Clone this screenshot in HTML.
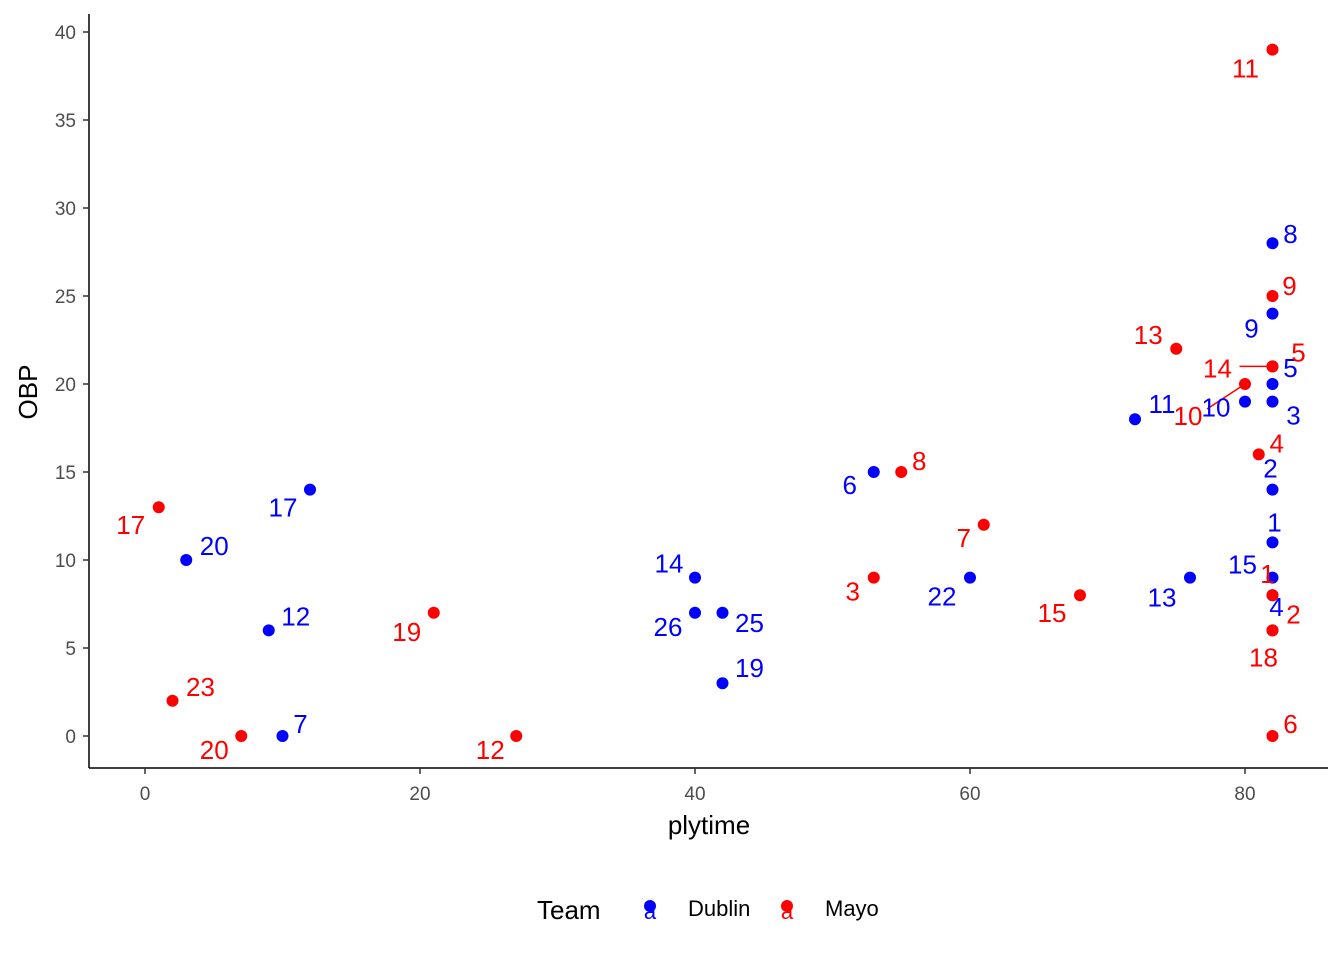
<!DOCTYPE html>
<html><head><meta charset="utf-8"><style>
body{margin:0;background:#fff}
svg text{font-family:"Liberation Sans",Arial,sans-serif}
</style></head><body>
<svg id="chart" width="1344" height="960" viewBox="0 0 1344 960" xmlns="http://www.w3.org/2000/svg">
<rect width="1344" height="960" fill="#fff"/>
<g id="axes"></g><g id="marks"></g>
<text x="709" y="834" font-size="26" text-anchor="middle">plytime</text>
<text transform="translate(37,392) rotate(-90)" font-size="26" text-anchor="middle">OBP</text>
<g>
<text x="537" y="919" font-size="26">Team</text>
<g>
<circle cx="650" cy="906" r="6" fill="#0000ff"/><text x="650" y="919" font-size="22" fill="#0000ff" text-anchor="middle">a</text>
<text x="688" y="916" font-size="22">Dublin</text></g>
<g>
<circle cx="787" cy="906" r="6" fill="#ff0000"/><text x="787" y="919" font-size="22" fill="#ff0000" text-anchor="middle">a</text>
<text x="825" y="916" font-size="22">Mayo</text></g>
</g>
</svg>
<script>
const xTicks=[0,20,40,60,80];
const yTicks=[0,5,10,15,20,25,30,35,40];
const dubX=[82,82,82,82,80,72,82,82,82,76,60,53,40,40,42,42,12,3,9,10,82];
const dubY=[28,24,20,19,19,18,14,11,9,9,9,15,9,7,7,3,14,10,6,0,8];
const dubLab=["8","9","5","3","10","11","2","1","15","13","22","6","14","26","25","19","17","20","12","7","4"];
const dubOff=[[18,-9],[-21,15],[18,-16],[21,14],[-29,6],[27,-15],[-2,-21],[2,-20],[-30,-13],[-28,20],[-28,19],[-24,13],[-26,-14],[-27,14],[27,10],[27,-15],[-27,18],[28,-14],[27,-14],[18,-12],[4,12]];
const mayX=[82,82,75,82,82,80,81,82,82,82,82,61,55,53,68,21,27,1,2,7];
const mayY=[39,25,22,21,21,20,16,8,6,6,0,12,15,9,8,7,0,13,2,0];
const mayLab=["11","9","13","14","5","10","4","1","2","18","6","7","8","3","15","19","12","17","23","20"];
const mayOff=[[-27,19],[17,-10],[-28,-14],[-55,2],[26,-14],[-57,32],[18,-11],[-5,-21],[21,-16],[-9,27],[18,-12],[-20,13],[18,-11],[-21,14],[-28,18],[-27,19],[-26,14],[-28,18],[28,-14],[-27,14]];
const X=v=>145+v*13.75, Y=v=>736-v*17.6;
const NS="http://www.w3.org/2000/svg";
const ax=document.getElementById('axes'), mk=document.getElementById('marks');
function el(t,a,p){const e=document.createElementNS(NS,t);for(const k in a)e.setAttribute(k,a[k]);p.appendChild(e);return e;}
const xl=el('line',{x1:89,y1:768,x2:1328,y2:768,stroke:'#000','stroke-width':1.5},ax);


const yl=el('line',{x1:89,y1:14,x2:89,y2:768,stroke:'#000','stroke-width':1.5},ax);


xTicks.forEach(t=>{
 el('line',{x1:X(t),y1:768,x2:X(t),y2:774,stroke:'#333','stroke-width':1.5},ax);
 const tx=el('text',{x:X(t),y:800,'font-size':19,fill:'#4d4d4d','text-anchor':'middle'},ax);tx.textContent=t;
 
 
});
yTicks.forEach(t=>{
 el('line',{x1:83,y1:Y(t),x2:89,y2:Y(t),stroke:'#333','stroke-width':1.5},ax);
 const tx=el('text',{x:76,y:Y(t)+7,'font-size':19,fill:'#4d4d4d','text-anchor':'end'},ax);tx.textContent=t;
 
 
});
// label segments for Mayo 14 and 10
[[3],[5]].forEach(([i])=>{
 const px=X(mayX[i]),py=Y(mayY[i]);
 const s=el('line',{x1:px,y1:py,x2:i==3?px-33:px-38,y2:i==3?py:py+25,stroke:'#ff0000','stroke-width':1.5},mk);
 
 
});
function series(xs,ys,labs,offs,col,name){
 xs.forEach((v,i)=>{
  const c=el('circle',{cx:X(v),cy:Y(ys[i]),r:6,fill:col},mk);
  
  
 });
 xs.forEach((v,i)=>{
  const t=el('text',{x:X(v)+offs[i][0],y:Y(ys[i])+offs[i][1]+9,'font-size':26,fill:col,'text-anchor':'middle'},mk);
  t.textContent=labs[i];
  
  
 });
}
series(dubX,dubY,dubLab,dubOff,'#0000ff','dublin');
series(mayX,mayY,mayLab,mayOff,'#ff0000','mayo');
</script>
</body></html>
